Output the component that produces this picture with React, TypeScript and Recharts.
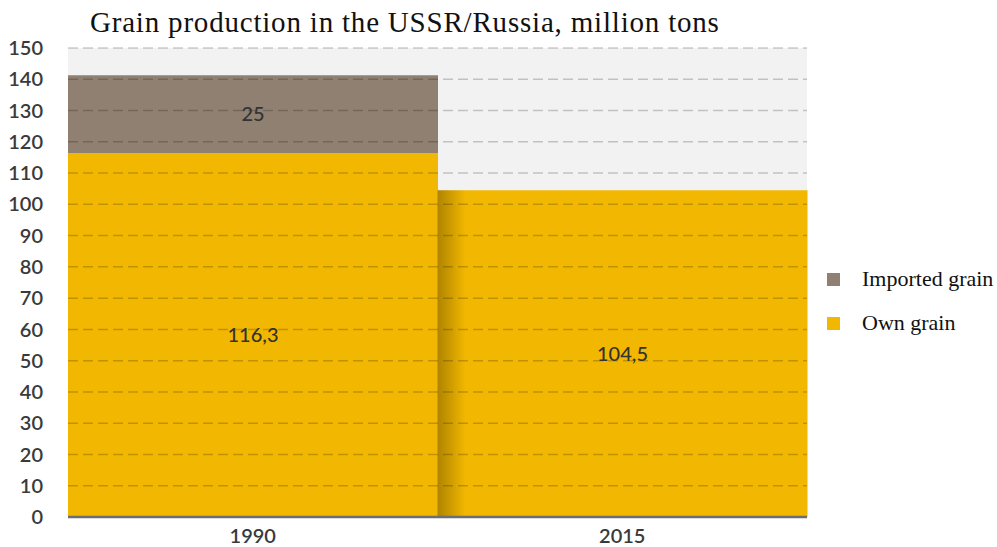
import { BarChart, Bar, XAxis, YAxis, CartesianGrid, ReferenceLine, LabelList, Rectangle } from "recharts";

const years = ["1990", "2015"];
const ownGrain = [116.3, 104.5];
const importedGrain = [25, null];
const yTicks = [0, 10, 20, 30, 40, 50, 60, 70, 80, 90, 100, 110, 120, 130, 140, 150];

const legendItems = [
  { name: "Imported grain", color: "#8f8072" },
  { name: "Own grain", color: "#f2b700" },
];

const data = years.map((year, i) => ({
  year,
  own: ownGrain[i],
  imported: importedGrain[i],
}));

const fmt = (v: any) => (v == null ? "" : String(v).replace(".", ","));

const tickFont = { fill: "#3a3a3a", fontSize: 20, fontFamily: "Lato", fontWeight: 600 };

// own grain bar, the later bar gets a little shadow on its left edge
const OwnShape = (props: any) => {
  const { x, y, height, index } = props;
  return (
    <g>
      <Rectangle {...props} />
      {index > 0 && (
        <rect x={x} y={y} width={28} height={height} fill="url(#leftShade)" />
      )}
    </g>
  );
};

const LegendBox = () => (
  <div
    style={{
      position: "absolute",
      left: 827,
      top: 257,
      fontFamily: "'Liberation Serif', serif",
      fontSize: 22,
      color: "#111",
    }}
  >
    {legendItems.map((item) => (
      <div key={item.name} style={{ display: "flex", alignItems: "center", height: 44 }}>
        <span
          style={{ width: 13, height: 13, background: item.color, display: "inline-block", marginRight: 22 }}
        />
        {item.name}
      </div>
    ))}
  </div>
);

export default function App() {
  return (
    <div style={{ position: "absolute", left: 0, top: 0, width: 997, height: 547, background: "#fff" }}>
      <BarChart
        width={997}
        height={547}
        data={data}
        barCategoryGap={0}
        margin={{ top: 48, right: 190, left: 8, bottom: 0 }}
      >
        <defs>
          <linearGradient id="leftShade" x1="0" y1="0" x2="1" y2="0">
            <stop offset="0%" stopColor="#000" stopOpacity={0.28} />
            <stop offset="100%" stopColor="#000" stopOpacity={0} />
          </linearGradient>
        </defs>
        <CartesianGrid vertical={false} horizontal={false} fill="#f2f2f2" />
        <XAxis
          dataKey="year"
          height={30}
          axisLine={{ stroke: "#6e6e6e", strokeWidth: 2.5 }}
          tickLine={false}
          tick={tickFont}
          tickMargin={6}
        />
        <YAxis
          width={60}
          domain={[0, 150]}
          ticks={yTicks}
          interval={0}
          axisLine={false}
          tickLine={false}
          tickSize={0}
          tickMargin={25}
          tick={tickFont}
        />
        <Bar dataKey="own" stackId="a" fill="#f2b700" shape={OwnShape} isAnimationActive={false}>
          <LabelList dataKey="own" position="center" formatter={fmt} fill="#333" fontSize={20} fontFamily="Lato" fontWeight={500} />
        </Bar>
        <Bar dataKey="imported" stackId="a" fill="#8f8072" isAnimationActive={false}>
          <LabelList dataKey="imported" position="center" formatter={fmt} fill="#333" fontSize={20} fontFamily="Lato" fontWeight={500} />
        </Bar>
        {yTicks.slice(1).map((t) => (
          <ReferenceLine key={t} y={t} stroke="rgba(0,0,0,0.2)" strokeDasharray="10 5" strokeWidth={1.5} />
        ))}
      </BarChart>
      <div
        style={{
          position: "absolute",
          left: 90,
          top: 6,
          fontFamily: "'Liberation Serif', serif",
          fontSize: 29,
          lineHeight: "33px",
          letterSpacing: 0.8,
          color: "#111",
          whiteSpace: "nowrap",
        }}
      >
        Grain production in the USSR/Russia, million tons
      </div>
      <LegendBox />
    </div>
  );
}
